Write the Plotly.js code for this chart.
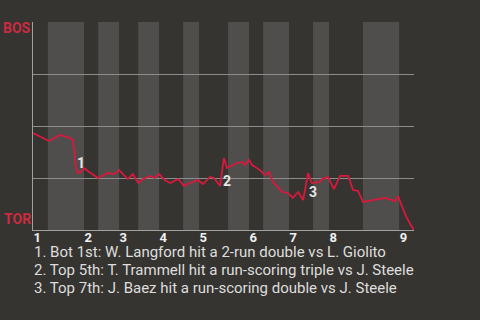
<!DOCTYPE html>
<html><head><meta charset="utf-8">
<script src="https://cdn.plot.ly/plotly-3.0.1.min.js"></script>
<style>html,body{margin:0;padding:0;background:#363430;}#chart{width:480px;height:320px;}</style>
</head><body><div id="chart"></div>
<script>
// Game progress (0-100) and BOS win probability
var progress = [0,4.2,7.1,9.7,10.5,11.3,11.8,12.6,13.4,14.7,17.1,19.7,21.3,22.6,24.9,26.2,27.6,28.9,30.7,32.0,33.1,34.6,36.0,38.1,39.6,41.2,43.3,44.6,46.5,47.5,49.1,50.1,50.9,53.5,54.9,55.6,56.7,57.5,59.6,60.9,61.9,63.0,65.4,66.9,68.2,69.6,70.9,72.2,73.2,75.3,75.9,77.4,79.0,80.6,82.7,84.0,85.3,86.6,89.2,92.4,95.0,95.8,96.9,97.9,99.0,100];
var bosWinProb = [0.466,0.428,0.457,0.442,0.433,0.298,0.274,0.279,0.298,0.279,0.250,0.274,0.269,0.288,0.245,0.269,0.226,0.245,0.260,0.250,0.269,0.240,0.226,0.245,0.212,0.226,0.240,0.221,0.255,0.250,0.212,0.346,0.298,0.322,0.327,0.312,0.337,0.312,0.288,0.264,0.279,0.231,0.183,0.178,0.154,0.183,0.144,0.274,0.226,0.231,0.245,0.255,0.197,0.260,0.260,0.192,0.188,0.135,0.144,0.154,0.139,0.163,0.111,0.067,0.029,0.0];
// Inning starts (top halves) and bottom-half spans
var inningStarts = [0,13.4,22.6,33.1,43.6,56.7,67.2,77.7,96.1];
var inningLabels = ['1','2','3','4','5','6','7','8','9'];
var bottomHalfStart = [3.9,17.1,27.6,39.4,51.2,60.4,73.5,86.6];
var bottomHalfEnd = [13.4,22.6,33.1,43.6,56.7,67.2,77.7,96.1];
// Key plays
var keyX = [12.7,51.0,73.4];
var keyY = [0.322,0.238,0.183];
var keyLabels = ['1','2','3'];
var keyText = ['1. Bot 1st: W. Langford hit a 2-run double vs L. Giolito','2. Top 5th: T. Trammell hit a run-scoring triple vs J. Steele','3. Top 7th: J. Baez hit a run-scoring double vs J. Steele'];
var teams = ['BOS','TOR'];

var shapes = bottomHalfStart.map(function(s,i){
  return {type:'rect',xref:'x',yref:'paper',x0:s,x1:bottomHalfEnd[i],y0:0,y1:1,fillcolor:'#4f4e4d',line:{width:0},layer:'below'};
});

var annotations = keyLabels.map(function(t,i){
  return {x:keyX[i],y:keyY[i],xref:'x',yref:'y',text:'<b>'+t+'</b>',showarrow:false,borderpad:0,font:{family:'Roboto',size:14,color:'#e6e6e6'}};
});
annotations.push({xref:'paper',yref:'paper',x:0,y:1,xanchor:'right',yanchor:'top',xshift:-1,yshift:3,borderpad:0,text:'<b>'+teams[0]+'</b>',showarrow:false,font:{family:'Roboto',size:14,color:'#cc2a40'}});
annotations.push({xref:'paper',yref:'paper',x:0,y:0,xanchor:'right',yanchor:'bottom',xshift:-1,yshift:2,borderpad:0,text:'<b>'+teams[1]+'</b>',showarrow:false,font:{family:'Roboto',size:14,color:'#cc2a40'}});
var lineShift = [-22,-40,-58];
keyText.forEach(function(t,i){
  annotations.push({xref:'paper',yref:'paper',x:0,y:0,xanchor:'left',yanchor:'middle',yshift:lineShift[i],borderpad:0,align:'left',text:t,showarrow:false,font:{family:'Roboto',size:15,color:'#dedede'}});
});

var trace = {x:progress,y:bosWinProb,type:'scatter',mode:'lines',line:{color:'#d8193c',width:1.8},hoverinfo:'skip'};

var layout = {
  width:480,height:320,
  margin:{l:33,r:66,t:22,b:90},
  paper_bgcolor:'#363430',plot_bgcolor:'#363430',
  showlegend:false,
  xaxis:{range:[0,100],showgrid:false,zeroline:false,showline:true,linecolor:'#a0a0a0',linewidth:1,
    tickmode:'array',tickvals:inningStarts,ticktext:inningLabels,ticks:'',ticklabelposition:'outside right',ticklabelstandoff:-5,
    tickfont:{family:'Roboto',size:13,color:'#f0f0f0',weight:'bold'}},
  yaxis:{range:[0,1],showgrid:true,gridcolor:'#8c8c8c',gridwidth:1,tickvals:[0.25,0.5,0.75,1],showticklabels:false,zeroline:false,showline:true,linecolor:'#a0a0a0',linewidth:1,ticks:''},
  shapes:shapes,
  annotations:annotations
};
Plotly.newPlot('chart',[trace],layout,{staticPlot:true});
</script></body></html>
